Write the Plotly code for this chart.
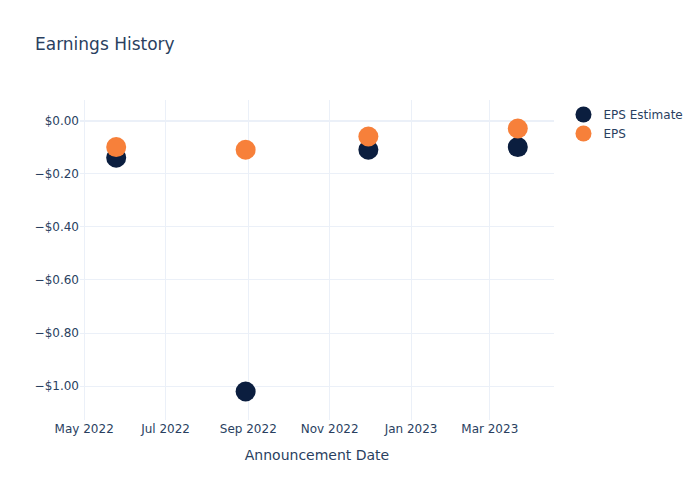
import plotly.graph_objects as go

dates = ["2022-05-25", "2022-08-30", "2022-11-30", "2023-03-22"]
eps_estimate = [-0.14, -1.02, -0.11, -0.10]
eps_actual = [-0.10, -0.11, -0.06, -0.03]

fig = go.Figure()
fig.add_trace(go.Scatter(x=dates, y=eps_estimate, mode="markers", name="EPS Estimate",
                         marker=dict(size=20, color="#0b1e3f")))
fig.add_trace(go.Scatter(x=dates, y=eps_actual, mode="markers", name="EPS",
                         marker=dict(size=20, color="#f7803a")))
fig.update_layout(
    template="plotly_white",
    width=700, height=500,
    font=dict(family="DejaVu Sans"),
    title=dict(text="Earnings History"),
    xaxis=dict(title=dict(text="Announcement Date"), dtick="M2", tickformat="%b %Y"),
    yaxis=dict(tickformat="$.2f"),
)
fig.write_html("out.html")
